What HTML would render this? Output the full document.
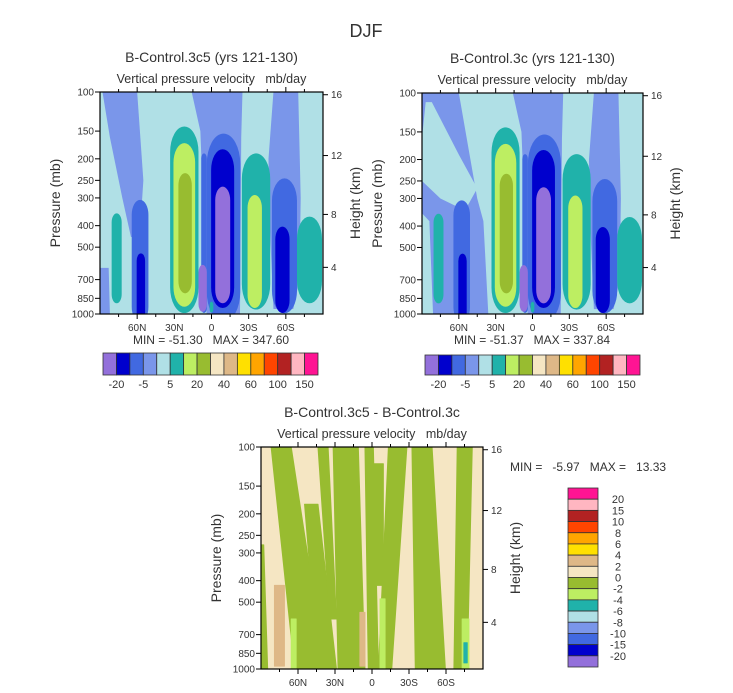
<!DOCTYPE html>
<html><head><meta charset="utf-8">
<style>
html,body{margin:0;padding:0;background:#fff;}
svg{display:block;font-family:"Liberation Sans",sans-serif;}
text{fill:#333;white-space:pre;}
</style></head>
<body>
<svg id="chart" width="733" height="693" viewBox="0 0 733 693">
<text x="366" y="37" font-size="18" text-anchor="middle">DJF</text>
</svg>
<script>
// ---------- data ----------
const palette = ["#9370DB","#0000CD","#4169E1","#7A96EA","#B0E0E6","#20B2AA","#BDEE62","#98BC30","#F5E6C3","#DEB887","#FFE000","#FFA500","#FF4500","#B22222","#FFB6C1","#FF1493"];
const topLevelLabels = ["-20","-5","5","20","40","60","100","150"];
const diffLevelLabels = ["20","15","10","8","6","4","2","0","-2","-4","-6","-8","-10","-15","-20"];
const pressureTicks = [100,150,200,250,300,400,500,700,850,1000];
const heightTicks = [4,8,12,16];
const latTicks = [60,30,0,-30,-60];
const latTickLabels = ["60N","30N","0","30S","60S"];
const minorLatTicks = [75,45,15,-15,-45,-75];
// blobs: [latNorth, latSouth, pTop, pBottom, colorIndex]
const topBlobs = [
 [80.6,72.5,352,895,5],
 [64.4,50.9,306,1000,2],
 [60.4,53.6,533,1000,1],
 [33.4,10.5,143,990,5],
 [30.7,13.2,170,927,6],
 [26.7,15.9,232,807,7],
 [3.8,-23.2,154,1000,2],
 [8.3,3.8,189,990,2],
 [10.5,3.8,601,977,0],
 [0.3,-18.3,181,940,1],
 [-3,-15.1,267,895,0],
 [-24.5,-47.4,189,955,5],
 [-29.1,-40.7,291,940,6],
 [-48.8,-69,245,993,2],
 [-51.5,-63,404,990,1],
 [-69,-89.2,364,895,5],
 [1.5,-1.5,880,985,5]
];
// polygons: [colorIndex, [[lat,p],...]]
const leftPolys = [
 [3,[[88,100],[60,100],[55,250],[58,450],[65,450],[72,300],[82,160]]],
 [3,[[90,620],[83,620],[82,1000],[90,1000]]],
 [3,[[16,100],[-25,100],[-24,160],[-23,1000],[4,1000],[6,400],[9,150]]],
 [3,[[-50,100],[-70,100],[-72,300],[-71,700],[-66,950],[-50,950],[-47,400],[-46,200]]]
];
const rightPolys = [
 [3,[[90,100],[60,100],[52,180],[45,300],[40,380],[36,1000],[90,1000]]],
 [4,[[87,110],[82,110],[60,190],[45,270],[55,340],[75,300],[90,250],[90,160]]],
 [4,[[90,350],[84,380],[81,1000],[90,1000]]],
 [3,[[16,100],[-25,100],[-24,160],[-23,1000],[4,1000],[6,400],[9,150]]],
 [3,[[-50,100],[-70,100],[-72,300],[-71,700],[-66,950],[-50,950],[-47,400],[-46,200]]]
];
// difference bands: [latTopN, latTopS, latBotN, latBotS, pTop, pBot, colorIndex]
const diffBands = [
 [81.8,65.5,62.8,38,100,1000,7],
 [54.7,43.8,43.8,28.8,181,1000,7],
 [43.8,35.6,34.3,28.8,100,595,7],
 [31.5,11.1,27.5,5.7,100,1000,7],
 [5.7,-1.1,3.0,-5.2,100,1000,7],
 [-1.1,-9.2,-2.4,-9.2,119,420,7],
 [-13.3,-28.3,-5.2,-16,100,1000,7],
 [-32.4,-48.7,-35.1,-59.5,100,1000,7],
 [-69.1,-81.3,-66.4,-77.2,100,1000,7],
 [90,87.8,90,84.6,276,1000,7],
 [-6.5,-10.6,-6.5,-10.6,483,1000,6],
 [65.5,61.5,65.5,61.5,595,1000,6],
 [-73.1,-78.6,-73.1,-78.6,595,1000,6],
 [-74.5,-77.2,-74.5,-77.2,762,938,5],
 [79.1,71,79.1,71,420,970,9],
 [9.8,5.7,9.8,5.7,556,970,9]
];
const panelTitles = ["B-Control.3c5 (yrs 121-130)","B-Control.3c (yrs 121-130)","B-Control.3c5 - B-Control.3c"];
const minMaxText = ["MIN = -51.30   MAX = 347.60","MIN = -51.37   MAX = 337.84","MIN =   -5.97   MAX =   13.33"];

// ---------- helpers ----------
const NS="http://www.w3.org/2000/svg";
const svg=document.getElementById('chart');
function el(tag,attrs,parent){const e=document.createElementNS(NS,tag);for(const k in attrs)e.setAttribute(k,attrs[k]);(parent||svg).appendChild(e);return e;}
function heightToP(z){const m=z*1000;if(m<=11000)return 1013.25*Math.pow(1-2.25577e-5*m,5.25588);return 226.32*Math.exp(-(m-11000)/6341.6);}

function drawPanel(P){
 const xLat=lat=>P.x+(90-lat)/180*P.w;
 const yP=p=>P.y+Math.log10(p/100)*P.h;
 const g=el('g',{});
 
 
 const cp=el('clipPath',{id:'clip-'+P.name},g);
 el('rect',{x:P.x,y:P.y,width:P.w,height:P.h},cp);
 const plot=el('g',{'clip-path':'url(#clip-'+P.name+')'},g);
 const bg=el('rect',{x:P.x,y:P.y,width:P.w,height:P.h,fill:palette[P.bg]},plot);
 
 
 (P.polys||[]).forEach(pl=>{
  const pts=pl[1].map(v=>xLat(v[0])+','+yP(v[1])).join(' ');
  const e=el('polygon',{points:pts,fill:palette[pl[0]]},plot);
  
  
 });
 (P.blobs||[]).forEach(b=>{
  const x1=xLat(b[0]),x2=xLat(b[1]),y1=yP(b[2]),y2=yP(b[3]);
  const w=x2-x1,h=y2-y1;
  const e=el('rect',{x:x1,y:y1,width:w,height:h+(b[3]>=1000?8:0),rx:w/2,ry:Math.min(w*0.9,h/2),fill:palette[b[4]]},plot);
  
  
 });
 (P.bands||[]).forEach(b=>{
  const pts=[[b[0],b[4]],[b[1],b[4]],[b[3],b[5]],[b[2],b[5]]].map(v=>xLat(v[0])+','+yP(v[1])).join(' ');
  const e=el('polygon',{points:pts,fill:palette[b[6]],'stroke':palette[b[6]],'stroke-width':1,'stroke-linejoin':'round'},plot);
  
  
 });
 const fr=el('rect',{x:P.x,y:P.y,width:P.w,height:P.h,fill:'none',stroke:'#000','stroke-width':1.2},g);
 
 
 pressureTicks.forEach(p=>{
  const y=yP(p);
  el('line',{x1:P.x-5,y1:y,x2:P.x,y2:y,stroke:'#000'},g);
  const t=el('text',{x:P.x-6,y:y+3.5,'font-size':10,'text-anchor':'end'},g);
  t.textContent=p;
  
  
 });
 heightTicks.forEach(z=>{
  const y=yP(heightToP(z));
  el('line',{x1:P.x+P.w,y1:y,x2:P.x+P.w+5,y2:y,stroke:'#000'},g);
  const t=el('text',{x:P.x+P.w+8,y:y+3.5,'font-size':10},g);
  t.textContent=z;
  
  
 });
 latTicks.forEach((lat,i)=>{
  const x=xLat(lat);
  el('line',{x1:x,y1:P.y+P.h,x2:x,y2:P.y+P.h+5,stroke:'#000'},g);
  el('line',{x1:x,y1:P.y,x2:x,y2:P.y-5,stroke:'#000'},g);
  const t=el('text',{x:x,y:P.y+P.h+17,'font-size':10,'text-anchor':'middle'},g);
  t.textContent=latTickLabels[i];
  
  
 });
 minorLatTicks.forEach(lat=>{
  const x=xLat(lat);
  el('line',{x1:x,y1:P.y+P.h,x2:x,y2:P.y+P.h+3,stroke:'#000'},g);
  el('line',{x1:x,y1:P.y,x2:x,y2:P.y-3,stroke:'#000'},g);
 });
 const cx=P.x+P.w/2;
 const t1=el('text',{x:cx,y:P.y-30,'font-size':14,'text-anchor':'middle'},g);
 t1.textContent=P.title;
 
 
 const t2=el('text',{x:cx,y:P.y-9,'font-size':12.5,'text-anchor':'middle'},g);
 t2.textContent='Vertical pressure velocity   mb/day';
 
 
 const yl=el('text',{x:0,y:0,'font-size':14,'text-anchor':'middle',transform:'translate('+(P.x-40)+','+(P.y+P.h/2)+') rotate(-90)'},g);
 yl.textContent='Pressure (mb)';
 
 
 const hl=el('text',{x:0,y:0,'font-size':14,'text-anchor':'middle',transform:'translate('+(P.x+P.w+37)+','+(P.y+P.h/2)+') rotate(-90)'},g);
 hl.textContent='Height (km)';
 
 
 const mm=el('text',{x:P.mmx,y:P.mmy,'font-size':12,'text-anchor':P.mmAnchor},g);
 mm.textContent=P.minmax;
 
 
}

function hColorbar(x,y,w,h,name){
 const g=el('g',{});
 
 
 const bw=w/palette.length;
 palette.forEach((c,i)=>{
  const r=el('rect',{x:x+i*bw,y:y,width:bw,height:h,fill:c,stroke:'#333','stroke-width':0.8},g);
  
  
 });
 topLevelLabels.forEach((s,i)=>{
  const t=el('text',{x:x+(2*i+1)*bw,y:y+h+13,'font-size':11,'text-anchor':'middle'},g);
  t.textContent=s;
  
  
 });
}
function vColorbar(x,y,w,h,name){
 const g=el('g',{});
 
 
 const bh=h/palette.length;
 for(let i=0;i<palette.length;i++){
  const r=el('rect',{x:x,y:y+i*bh,width:w,height:bh,fill:palette[palette.length-1-i],stroke:'#333','stroke-width':0.8},g);
  
  
 }
 diffLevelLabels.forEach((s,i)=>{
  const t=el('text',{x:x+w+20,y:y+(i+1)*bh+4,'font-size':11,'text-anchor':'middle'},g);
  t.textContent=s;
  
  
 });
}

drawPanel({name:'panel-3c5',x:100,y:92,w:223,h:222,bg:4,polys:leftPolys,blobs:topBlobs,title:panelTitles[0],minmax:minMaxText[0],mmx:211,mmy:344,mmAnchor:'middle'});
drawPanel({name:'panel-3c',x:422,y:93,w:221,h:221,bg:4,polys:rightPolys,blobs:topBlobs,title:panelTitles[1],minmax:minMaxText[1],mmx:532,mmy:344,mmAnchor:'middle'});
drawPanel({name:'panel-difference',x:261,y:447,w:222,h:222,bg:8,bands:diffBands,title:panelTitles[2],minmax:minMaxText[2],mmx:510,mmy:471,mmAnchor:'start'});
hColorbar(103,353,215,22,'colorbar-3c5');
hColorbar(425,355,215,20,'colorbar-3c');
vColorbar(568,488,30,179,'colorbar-difference');
</script>
</body></html>
